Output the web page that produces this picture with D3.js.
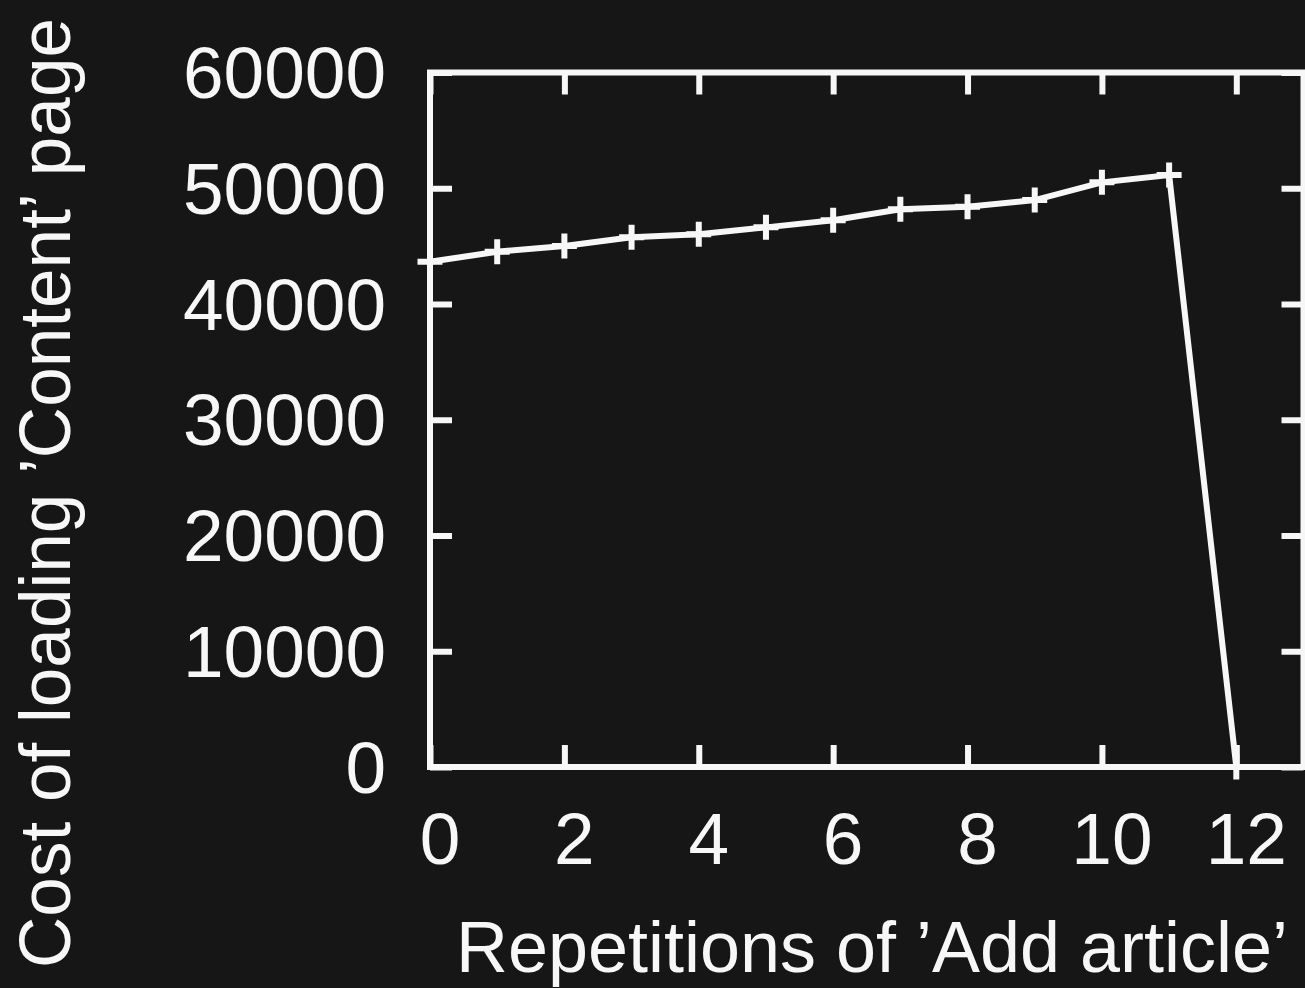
<!DOCTYPE html>
<html>
<head>
<meta charset="utf-8">
<script src="https://cdn.jsdelivr.net/npm/d3@7"></script>
<style>
  html, body { margin: 0; padding: 0; background: #161616; }
  svg { display: block; }
  text { font-family: "Liberation Sans", Arial, sans-serif; fill: #f7f7f7; }
</style>
</head>
<body>
<svg id="chart" width="1305" height="988"></svg>
<script>
// repetitions of 'Add article' and cost of loading 'Content' page
let reps = [0, 1, 2, 3, 4, 5, 6, 7, 8, 9, 10, 11, 12];
let cost = [43650, 44520, 45010, 45760, 46020, 46620, 47230, 48180, 48400, 48980, 50510, 51140, 0];

let xTicks = [0, 2, 4, 6, 8, 10, 12];
let yTicks = [0, 10000, 20000, 30000, 40000, 50000, 60000];

let xLabel = "Repetitions of \u2019Add article\u2019";
let yLabel = "Cost of loading \u2019Content\u2019 page";

let fg = "#f7f7f7";
let lw = 6;

let svg = d3.select("#chart"),
    margin = {top: 72.5, right: 1.5, bottom: 221, left: 430},
    width = +svg.attr("width") - margin.left - margin.right,
    height = +svg.attr("height") - margin.top - margin.bottom,
    g = svg.append("g").attr("transform", "translate(" + margin.left + "," + margin.top + ")");

let x = d3.scaleLinear().domain([0, 13]).range([0, width]);
let y = d3.scaleLinear().domain([0, 60000]).range([height, 0]);

let tickLen = 22;

// inward ticks on all four sides
g.append("g")
    .attr("class", "axis")
    .attr("transform", "translate(0," + height + ")")
    .call(d3.axisBottom(x).tickValues(xTicks).tickSize(-tickLen).tickFormat(""));
g.append("g")
    .attr("class", "axis")
    .call(d3.axisTop(x).tickValues(xTicks).tickSize(-tickLen).tickFormat(""));
g.append("g")
    .attr("class", "axis")
    .call(d3.axisLeft(y).tickValues(yTicks).tickSize(-tickLen).tickFormat(""));
g.append("g")
    .attr("class", "axis")
    .attr("transform", "translate(" + width + ",0)")
    .call(d3.axisRight(y).tickValues(yTicks).tickSize(-tickLen).tickFormat(""));

g.selectAll(".axis .domain").remove();
g.selectAll(".axis line")
    .attr("stroke", fg)
    .attr("stroke-width", lw);

// frame
g.append("rect")
    .attr("x", 0)
    .attr("y", 0)
    .attr("width", width)
    .attr("height", height)
    .attr("fill", "none")
    .attr("stroke", fg)
    .attr("stroke-width", lw);

// tick labels
g.append("g")
    .selectAll("text")
    .data(yTicks)
    .enter().append("text")
    .attr("x", -44)
    .attr("y", d => y(d))
    .attr("dy", "0.35em")
    .attr("text-anchor", "end")
    .attr("font-size", 73)
    .text(d => d);

g.append("g")
    .selectAll("text")
    .data(xTicks)
    .enter().append("text")
    .attr("x", d => x(d) + 10)
    .attr("y", height + 97)
    .attr("text-anchor", "middle")
    .attr("font-size", 73)
    .text(d => d);

// axis titles
svg.append("text")
    .attr("x", 1288)
    .attr("y", 972)
    .attr("text-anchor", "end")
    .attr("font-size", 73)
    .attr("textLength", 832)
    .attr("lengthAdjust", "spacingAndGlyphs")
    .text(xLabel);

svg.append("text")
    .attr("transform", "translate(70,968) rotate(-90)")
    .attr("text-anchor", "start")
    .attr("font-size", 73)
    .attr("textLength", 950)
    .attr("lengthAdjust", "spacingAndGlyphs")
    .text(yLabel);

// data line
let data = reps.map((r, i) => ({r: r, c: cost[i]}));

g.append("path")
    .datum(data)
    .attr("fill", "none")
    .attr("stroke", fg)
    .attr("stroke-width", lw)
    .attr("stroke-linejoin", "miter")
    .attr("d", d3.line().x(d => x(d.r)).y(d => y(d.c)));

// plus markers
g.append("g")
    .selectAll("path")
    .data(data)
    .enter().append("path")
    .attr("transform", d => "translate(" + x(d.r) + "," + y(d.c) + ")")
    .attr("d", "M-12.5,0H12.5M0,-12.5V12.5")
    .attr("stroke", fg)
    .attr("stroke-width", lw)
    .attr("fill", "none");
</script>
</body>
</html>
